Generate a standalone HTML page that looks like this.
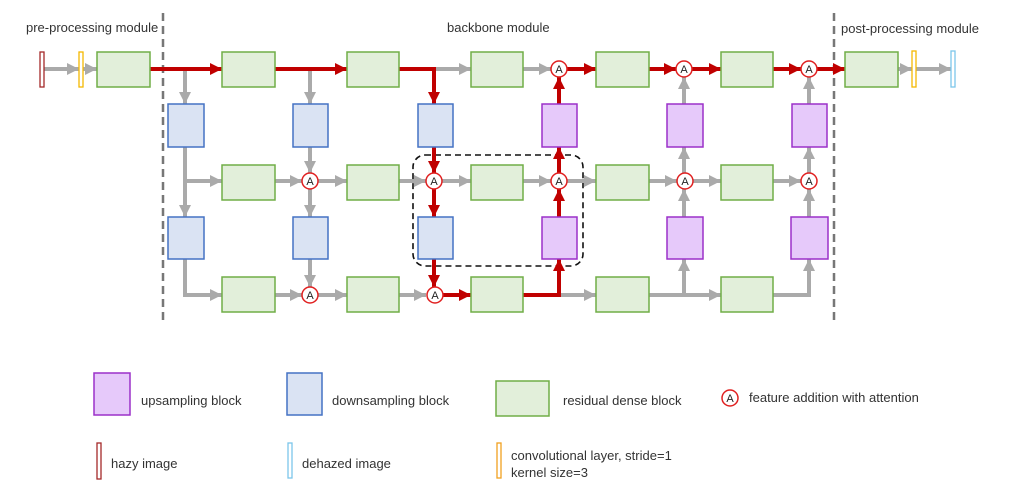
<!DOCTYPE html>
<html><head><meta charset="utf-8"><style>
body{margin:0;background:#fff;}
svg{display:block;font-family:"Liberation Sans",sans-serif;}
</style></head><body>
<svg width="1031" height="484" viewBox="0 0 1031 484" xmlns="http://www.w3.org/2000/svg">
<defs>
<marker id="g" markerWidth="3" markerHeight="3" refX="3" refY="1.5" orient="auto" markerUnits="strokeWidth"><path d="M0,0 L3,1.5 L0,3z" fill="#aaa"/></marker>
<marker id="r" markerWidth="3" markerHeight="3" refX="3" refY="1.5" orient="auto" markerUnits="strokeWidth"><path d="M0,0 L3,1.5 L0,3z" fill="#c00000"/></marker>
</defs>
<g font-size="13" fill="#333">
<text x="26" y="32">pre-processing module</text>
<text x="447" y="32">backbone module</text>
<text x="841" y="33">post-processing module</text>
</g>
<g stroke="#777" stroke-width="2.5" stroke-dasharray="8,5"><line x1="163" y1="13" x2="163" y2="322"/><line x1="834" y1="13" x2="834" y2="322"/></g>
<rect x="413" y="155" width="170" height="111" rx="12" fill="none" stroke="#111" stroke-width="1.6" stroke-dasharray="6,4"/>

<!-- gray connectors -->
<g stroke="#aaa" stroke-width="4" fill="none" marker-end="url(#g)">
<line x1="44" y1="69" x2="79" y2="69"/><line x1="83" y1="69" x2="97" y2="69"/>
<line x1="185" y1="69" x2="185" y2="104"/><line x1="310" y1="69" x2="310" y2="104"/>
<line x1="434" y1="69" x2="471" y2="69"/>
<line x1="523" y1="69" x2="551" y2="69"/>
<line x1="684" y1="104" x2="684" y2="77"/><line x1="809" y1="104" x2="809" y2="77"/>
<line x1="898" y1="69" x2="912" y2="69"/><line x1="916" y1="69" x2="951" y2="69"/>
<line x1="185" y1="147" x2="185" y2="217"/><line x1="185" y1="181" x2="222" y2="181"/>
<line x1="310" y1="147" x2="310" y2="173"/><line x1="275" y1="181" x2="302" y2="181"/><line x1="318" y1="181" x2="347" y2="181"/><line x1="310" y1="189" x2="310" y2="217"/>
<line x1="399" y1="181" x2="426" y2="181"/><line x1="442" y1="181" x2="471" y2="181"/>
<line x1="523" y1="181" x2="551" y2="181"/><line x1="567" y1="181" x2="596" y2="181"/>
<line x1="649" y1="181" x2="677" y2="181"/><line x1="693" y1="181" x2="721" y2="181"/>
<line x1="684" y1="217" x2="684" y2="189"/><line x1="684" y1="173" x2="684" y2="147"/>
<line x1="773" y1="181" x2="801" y2="181"/>
<line x1="809" y1="217" x2="809" y2="189"/><line x1="809" y1="173" x2="809" y2="147"/>
<polyline points="185,259 185,295 222,295"/>
<line x1="310" y1="259" x2="310" y2="287"/><line x1="275" y1="295" x2="302" y2="295"/><line x1="318" y1="295" x2="347" y2="295"/>
<line x1="399" y1="295" x2="426" y2="295"/>
<line x1="559" y1="295" x2="596" y2="295"/>
<line x1="649" y1="295" x2="721" y2="295"/><line x1="684" y1="295" x2="684" y2="259"/>
<polyline points="773,295 809,295 809,259"/>
</g>
<!-- red connectors -->
<g stroke="#c00000" stroke-width="4" fill="none" marker-end="url(#r)">
<line x1="150" y1="69" x2="222" y2="69"/>
<line x1="275" y1="69" x2="347" y2="69"/>
<polyline points="399,69 434,69 434,104"/>
<line x1="559" y1="104" x2="559" y2="77"/><line x1="567" y1="69" x2="596" y2="69"/>
<line x1="649" y1="69" x2="676" y2="69"/><line x1="692" y1="69" x2="721" y2="69"/>
<line x1="773" y1="69" x2="801" y2="69"/><line x1="817" y1="69" x2="845" y2="69"/>
<line x1="434" y1="147" x2="434" y2="173"/><line x1="434" y1="189" x2="434" y2="217"/>
<line x1="559" y1="217" x2="559" y2="189"/><line x1="559" y1="173" x2="559" y2="147"/>
<line x1="434" y1="259" x2="434" y2="287"/><line x1="442" y1="295" x2="471" y2="295"/>
<polyline points="523,295 559,295 559,259"/>
</g>

<!-- green blocks -->
<g fill="#e2efda" stroke="#70ad47" stroke-width="1.5">
<rect x="97" y="52" width="53" height="35"/>
<rect x="222" y="52" width="53" height="35"/><rect x="347" y="52" width="52" height="35"/><rect x="471" y="52" width="52" height="35"/><rect x="596" y="52" width="53" height="35"/><rect x="721" y="52" width="52" height="35"/><rect x="845" y="52" width="53" height="35"/>
<rect x="222" y="165" width="53" height="35"/><rect x="347" y="165" width="52" height="35"/><rect x="471" y="165" width="52" height="35"/><rect x="596" y="165" width="53" height="35"/><rect x="721" y="165" width="52" height="35"/>
<rect x="222" y="277" width="53" height="35"/><rect x="347" y="277" width="52" height="35"/><rect x="471" y="277" width="52" height="35"/><rect x="596" y="277" width="53" height="35"/><rect x="721" y="277" width="52" height="35"/>
<rect x="496" y="381" width="53" height="35"/>
</g>
<!-- blue blocks -->
<g fill="#dae3f3" stroke="#4472c4" stroke-width="1.5">
<rect x="168" y="104" width="36" height="43"/><rect x="293" y="104" width="35" height="43"/><rect x="418" y="104" width="35" height="43"/>
<rect x="168" y="217" width="36" height="42"/><rect x="293" y="217" width="35" height="42"/><rect x="418" y="217" width="35" height="42"/>
<rect x="287" y="373" width="35" height="42"/>
</g>
<!-- purple blocks -->
<g fill="#e6c9fa" stroke="#9b30c9" stroke-width="1.5">
<rect x="542" y="104" width="35" height="43"/><rect x="667" y="104" width="36" height="43"/><rect x="792" y="104" width="35" height="43"/>
<rect x="542" y="217" width="35" height="42"/><rect x="667" y="217" width="36" height="42"/><rect x="791" y="217" width="37" height="42"/>
<rect x="94" y="373" width="36" height="42"/>
</g>
<!-- circles -->
<g font-size="11" text-anchor="middle" fill="#222">
<g fill="#fff" stroke="#e02020" stroke-width="1.5">
<circle cx="559" cy="69" r="8"/><circle cx="684" cy="69" r="8"/><circle cx="809" cy="69" r="8"/>
<circle cx="310" cy="181" r="8"/><circle cx="434" cy="181" r="8"/><circle cx="559" cy="181" r="8"/><circle cx="685" cy="181" r="8"/><circle cx="809" cy="181" r="8"/>
<circle cx="310" cy="295" r="8"/><circle cx="435" cy="295" r="8"/>
<circle cx="730" cy="398" r="8"/>
</g>
<text x="559" y="73">A</text><text x="684" y="73">A</text><text x="809" y="73">A</text>
<text x="310" y="185">A</text><text x="434" y="185">A</text><text x="559" y="185">A</text><text x="685" y="185">A</text><text x="809" y="185">A</text>
<text x="310" y="299">A</text><text x="435" y="299">A</text><text x="730" y="402">A</text>
</g>
<!-- thin bars -->
<rect x="40" y="52" width="4" height="35" fill="#fff" stroke="#a52a2a" stroke-width="1.3"/>
<rect x="79" y="52" width="4" height="35" fill="#fff" stroke="#f5b800" stroke-width="1.3"/>
<rect x="912" y="51" width="4" height="36" fill="#fff" stroke="#f5b800" stroke-width="1.3"/>
<rect x="951" y="51" width="4" height="36" fill="#fff" stroke="#7cc6ea" stroke-width="1.3"/>
<rect x="97" y="443" width="4" height="36" fill="#fff" stroke="#a52a2a" stroke-width="1.3"/>
<rect x="288" y="443" width="4" height="35" fill="#fff" stroke="#7cc6ea" stroke-width="1.3"/>
<rect x="497" y="443" width="4" height="35" fill="#fff" stroke="#f0a020" stroke-width="1.3"/>
<!-- legend text -->
<g font-size="13" fill="#333">
<text x="141" y="405">upsampling block</text>
<text x="332" y="405">downsampling block</text>
<text x="563" y="405">residual dense block</text>
<text x="749" y="402">feature addition with attention</text>
<text x="111" y="468">hazy image</text>
<text x="302" y="468">dehazed image</text>
<text x="511" y="460">convolutional layer, stride=1</text>
<text x="511" y="477">kernel size=3</text>
</g>
</svg>
</body></html>
